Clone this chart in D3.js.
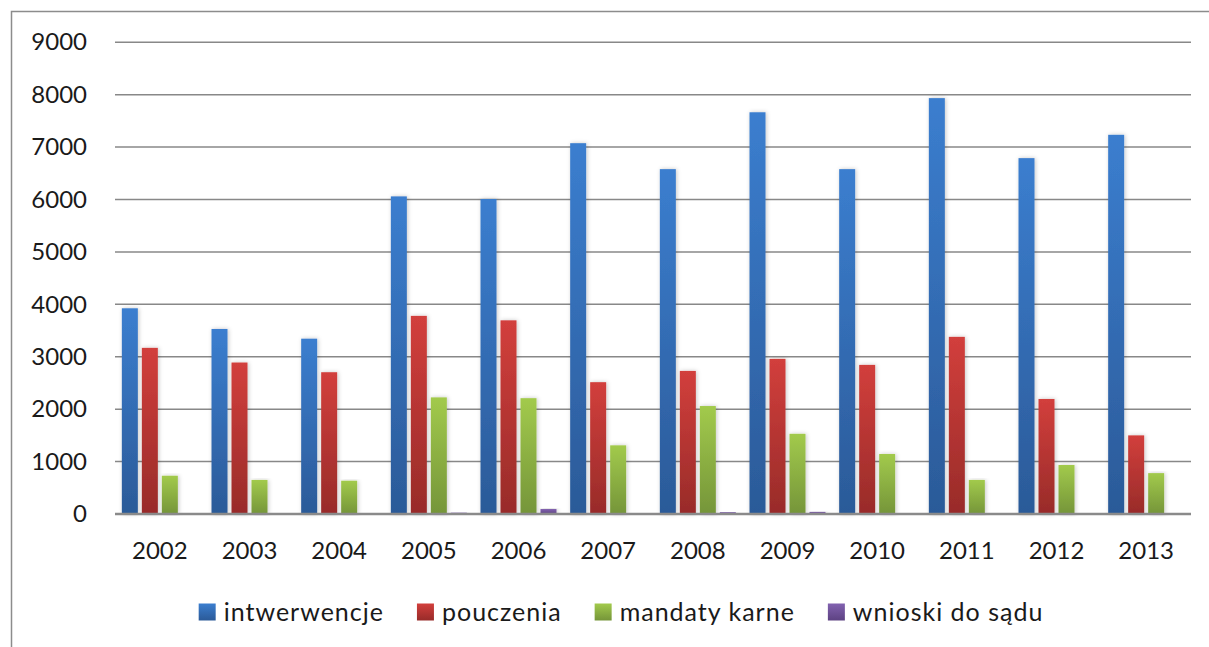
<!DOCTYPE html>
<html>
<head>
<meta charset="utf-8">
<script src="https://cdn.jsdelivr.net/npm/d3@7"></script>
<style>
  html, body { margin: 0; padding: 0; background: #fff; }
  svg { display: block; }
  text { font-family: Lato, "Open Sans", sans-serif; fill: #1a1a1a; }
</style>
</head>
<body>
<svg id="chart" width="1209" height="647"></svg>
<script>
const years = ["2002","2003","2004","2005","2006","2007","2008","2009","2010","2011","2012","2013"];
const seriesNames = ["intwerwencje", "pouczenia", "mandaty karne", "wnioski do sądu"];
const intwerwencje = [3925, 3530, 3345, 6060, 6010, 7075, 6580, 7665, 6580, 7935, 6790, 7235];
const pouczenia    = [3170, 2890, 2705, 3780, 3695, 2515, 2730, 2960, 2845, 3380, 2195, 1500];
const mandatyKarne = [730, 650, 635, 2225, 2210, 1310, 2060, 1530, 1145, 650, 935, 780];
const wnioskiDoSadu = [0, 0, 0, 25, 95, 15, 35, 40, 0, 0, 0, 15];
const yTicks = [0, 1000, 2000, 3000, 4000, 5000, 6000, 7000, 8000, 9000];

(function () {
const seriesValues = [intwerwencje, pouczenia, mandatyKarne, wnioskiDoSadu];
const colors = [
  { top: "#3b7ecf", bottom: "#2b5a98" },
  { top: "#d23f3c", bottom: "#982b29" },
  { top: "#a2ca4c", bottom: "#759539" },
  { top: "#8262b0", bottom: "#5d4282" }
];

const svg = d3.select("#chart");
const defs = svg.append("defs");
colors.forEach((c, i) => {
  const g = defs.append("linearGradient").attr("id", "grad" + i)
    .attr("x1", 0).attr("y1", 0).attr("x2", 0).attr("y2", 1);
  g.append("stop").attr("offset", "0%").attr("stop-color", c.top);
  g.append("stop").attr("offset", "100%").attr("stop-color", c.bottom);
});
const f = defs.append("filter").attr("id", "shadow")
  .attr("x", "-50%").attr("y", "-5%").attr("width", "200%").attr("height", "110%");
f.append("feDropShadow").attr("dx", 1).attr("dy", 0).attr("stdDeviation", 2)
  .attr("flood-color", "#000").attr("flood-opacity", 0.22);

// outer border (chart area extends past the window on right and bottom)
svg.append("rect").attr("x", 11.5).attr("y", 11.5).attr("width", 1300).attr("height", 700)
  .attr("fill", "none").attr("stroke", "#8c8c8c").attr("stroke-width", 1.5);

const pLeft = 115, pRight = 1191, pTop = 42.3, pBottom = 514;
const x0 = d3.scaleBand().domain(years).range([pLeft, pRight]).padding(0);
const x1 = d3.scaleBand().domain(d3.range(4)).range([0, x0.bandwidth()])
  .paddingInner(0.2).paddingOuter(0.342);
const y = d3.scaleLinear().domain([0, 9000]).range([pBottom, pTop]);

// gridlines
svg.append("g").selectAll("line").data(yTicks.filter(d => d > 0)).join("line")
  .attr("x1", pLeft).attr("x2", pRight)
  .attr("y1", d => y(d)).attr("y2", d => y(d))
  .attr("stroke", "#888").attr("stroke-width", 1.5);

// y axis labels
const yAxis = d3.axisLeft(y).tickValues(yTicks).tickSize(0).tickPadding(28).tickFormat(d3.format("d"));
const gy = svg.append("g").attr("transform", `translate(${pLeft},0)`).call(yAxis);
gy.select(".domain").remove();
gy.selectAll("text").style("font-size", "24px").style("font-family", "Lato, sans-serif").attr("fill", "#1a1a1a");

// bars
const groups = svg.append("g").selectAll("g").data(years).join("g")
  .attr("transform", d => `translate(${x0(d)},0)`);
groups.selectAll("rect").data((yr, i) => seriesValues.map((s, k) => ({ k, v: s[i] })))
  .join("rect")
  .attr("x", d => x1(d.k))
  .attr("width", x1.bandwidth())
  .attr("y", d => y(d.v))
  .attr("height", d => Math.max(0, pBottom - y(d.v)))
  .attr("fill", d => `url(#grad${d.k})`)
  .attr("filter", "url(#shadow)");

// x axis
const xAxis = d3.axisBottom(x0).tickSize(0).tickPadding(28);
const gx = svg.append("g").attr("transform", `translate(0,${pBottom})`).call(xAxis);
gx.select(".domain").attr("stroke", "#8a8a8a").attr("stroke-width", 2.5)
  .attr("d", `M${pLeft},0H${pRight}`);
gx.selectAll("text").style("font-size", "24px").style("font-family", "Lato, sans-serif").attr("fill", "#1a1a1a");

// legend
const legend = svg.append("g");
const items = legend.selectAll("g").data(seriesNames).join("g");
items.append("rect").attr("width", 17).attr("height", 17).attr("y", -8.5)
  .attr("fill", (d, i) => `url(#grad${i})`);
items.append("text").attr("x", 25).attr("dy", "0.35em")
  .style("font-size", "25px").style("letter-spacing", "1px").text(d => d);
let xpos = 0;
const widths = [];
items.each(function () { widths.push(this.getBBox().width); });
items.attr("transform", (d, i) => { const t = `translate(${xpos},612)`; xpos += widths[i] + 33; return t; });
const total = xpos - 33;
legend.attr("transform", `translate(${621 - total / 2},0)`);
})();
</script>
</body>
</html>
